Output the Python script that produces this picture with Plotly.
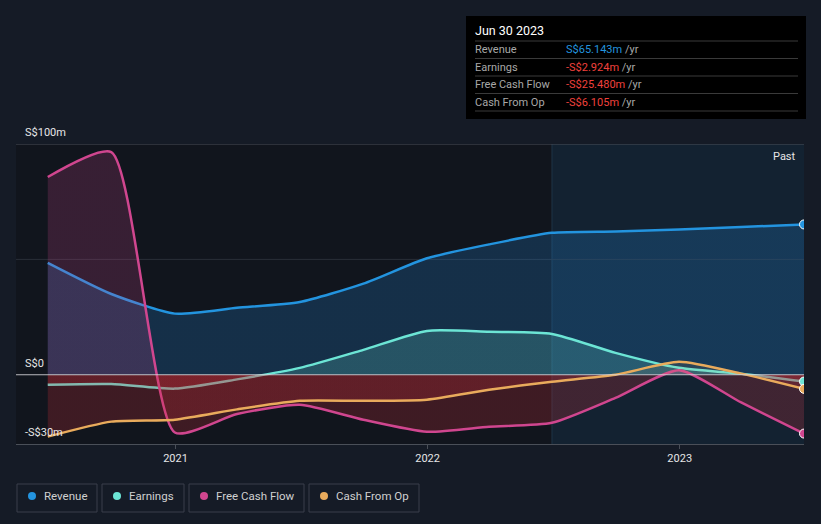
import plotly.graph_objects as go

# ---- data (S$ millions) ----
dates = ["2020-06-30", "2020-09-30", "2020-12-31", "2021-03-31", "2021-06-30",
         "2021-09-30", "2021-12-31", "2022-03-31", "2022-06-30", "2022-09-30",
         "2022-12-31", "2023-03-31", "2023-06-30"]
revenue = [48.5, 35.0, 26.5, 29.0, 31.5, 39.5, 50.5, 56.5, 61.5, 62.1, 63.0, 64.0, 65.143]
earnings = [-4.3, -4.0, -6.0, -2.0, 3.0, 10.8, 19.0, 18.6, 17.7, 9.5, 3.0, 0.4, -2.924]
fcf = [85.7, 96.5, -25.0, -17.0, -13.0, -19.5, -24.7, -22.5, -20.8, -10.0, 2.0, -12.0, -25.480]
cfo = [-26.8, -20.3, -19.5, -15.0, -11.3, -11.3, -10.8, -6.5, -3.0, 0.0, 5.6, 0.5, -6.105]

series_names = ["Revenue", "Earnings", "Free Cash Flow", "Cash From Op"]
series_values = [revenue, earnings, fcf, cfo]
series_colors = ["#2394df", "#6ce5d5", "#d0468f", "#e9ab5c"]
series_fill = ["rgba(35,140,225,0.22)", "rgba(108,229,213,0.20)",
               "rgba(208,70,143,0.20)", "rgba(233,171,92,0.10)"]
neg_fill = "rgba(205,45,55,0.24)"

tooltip_date = "Jun 30 2023"
tooltip_vals = ["S$65.143m", "-S$2.924m", "-S$25.480m", "-S$6.105m"]
tooltip_cols = ["#2394df", "#f0413c", "#f0413c", "#f0413c"]

y_labels = [(100, "S$100m"), (0, "S$0"), (-30, "-S$30m")]
x_ticks = ["2021-01-01", "2022-01-01", "2023-01-01"]
x_ticktext = ["2021", "2022", "2023"]
x_range = ["2020-05-15", "2023-06-30"]
y_range = [-30, 100]
past_start = "2022-06-30"

W, H = 821, 524
L, R, T, B = 16, 804, 144, 444


def px(x):
    return (x - L) / (R - L)


def py(y):
    return (B - y) / (B - T)


fig = go.Figure()

zero_frac = (0 - y_range[0]) / (y_range[1] - y_range[0])
for name, vals, col, fc in zip(series_names, series_values, series_colors, series_fill):
    fig.add_trace(go.Scatter(
        x=dates, y=vals, name=name, mode="lines",
        line=dict(color=col, width=2.5, shape="spline", smoothing=0.6),
        fill="tozeroy",
        fillgradient=dict(type="vertical", start=y_range[0], stop=y_range[1],
                          colorscale=[[0, neg_fill], [zero_frac, neg_fill],
                                      [zero_frac + 0.0001, fc], [1, fc]]),
        hoverinfo="skip", showlegend=False,
    ))

for name, vals, col in zip(series_names, series_values, series_colors):
    fig.add_trace(go.Scatter(
        x=[dates[-1]], y=[vals[-1]], mode="markers",
        marker=dict(color=col, size=9, line=dict(color="#ffffff", width=1)),
        hoverinfo="skip", showlegend=False,
    ))

shapes = []
annotations = []

# past region
shapes.append(dict(type="rect", xref="x", yref="paper", x0=past_start, x1=x_range[1],
                   y0=0, y1=1, fillcolor="rgba(22,50,75,0.45)", line=dict(width=0), layer="below"))
shapes.append(dict(type="line", xref="x", yref="paper", x0=past_start, x1=past_start,
                   y0=0, y1=1, line=dict(color="rgba(40,70,90,0.6)", width=1), layer="below"))
# grid lines
shapes.append(dict(type="line", xref="paper", yref="y", x0=0, x1=1, y0=100, y1=100,
                   line=dict(color="#4a4f58", width=1), layer="below"))
shapes.append(dict(type="line", xref="paper", yref="y", x0=0, x1=1, y0=50, y1=50,
                   line=dict(color="#2a2f38", width=1), layer="below"))
shapes.append(dict(type="line", xref="paper", yref="y", x0=0, x1=1, y0=0, y1=0,
                   line=dict(color="rgba(215,215,220,0.85)", width=1.2), layer="above"))

for v, t in y_labels:
    annotations.append(dict(x=px(23), y=v, xref="paper", yref="y", text=t, showarrow=False,
                            xanchor="left", yanchor="bottom", yshift=3,
                            font=dict(color="#e6e6e6", size=11)))

annotations.append(dict(x=px(798), y=py(156), xref="paper", yref="paper", text="Past",
                        showarrow=False, xanchor="right", yanchor="middle",
                        font=dict(color="#e6e6e6", size=11)))

# tooltip box
shapes.append(dict(type="rect", xref="paper", yref="paper", x0=px(466), x1=px(806),
                   y0=py(119), y1=py(16), fillcolor="#000000", line=dict(width=0)))
for yy in [41, 58.5, 76, 93.5, 111]:
    shapes.append(dict(type="line", xref="paper", yref="paper", x0=px(475), x1=px(798),
                       y0=py(yy), y1=py(yy), line=dict(color="#3a3a3a", width=1)))
annotations.append(dict(x=px(473), y=py(31), xref="paper", yref="paper", text=tooltip_date,
                        showarrow=False, xanchor="left", yanchor="middle",
                        font=dict(color="#ffffff", size=12.5)))
for i, (nm, val, vc) in enumerate(zip(series_names, tooltip_vals, tooltip_cols)):
    yy = 49.5 + i * 17.5
    annotations.append(dict(x=px(473), y=py(yy), xref="paper", yref="paper", text=nm,
                            showarrow=False, xanchor="left", yanchor="middle",
                            font=dict(color="#a8a8a8", size=11)))
    annotations.append(dict(x=px(564), y=py(yy), xref="paper", yref="paper",
                            text=f"<span style='color:{vc}'>{val}</span> /yr",
                            showarrow=False, xanchor="left", yanchor="middle",
                            font=dict(color="#a8a8a8", size=11)))

# custom legend
boxes = [(17, 97), (102, 184), (189, 304), (309, 419)]
for (x0, x1), nm, col in zip(boxes, series_names, series_colors):
    shapes.append(dict(type="rect", xref="paper", yref="paper", x0=px(x0), x1=px(x1),
                       y0=py(512), y1=py(484), line=dict(color="#3a3f4a", width=1),
                       fillcolor="rgba(0,0,0,0)"))
    cx = x0 + 15
    shapes.append(dict(type="circle", xref="paper", yref="paper", x0=px(cx - 4), x1=px(cx + 4),
                       y0=py(500), y1=py(492), fillcolor=col, line=dict(width=0)))
    annotations.append(dict(x=px(cx + 10), y=py(496), xref="paper", yref="paper", text=nm,
                            showarrow=False, xanchor="left", yanchor="middle",
                            font=dict(color="#d0d0d0", size=11.5)))

fig.update_layout(
    width=W, height=H, autosize=False,
    margin=dict(l=L, r=W - R, t=T, b=H - B, pad=0),
    paper_bgcolor="#151b26", plot_bgcolor="#11151d",
    font=dict(family="Roboto, Arial, sans-serif", color="#e6e6e6"),
    shapes=shapes, annotations=annotations, showlegend=False,
    xaxis=dict(range=x_range, type="date", tickvals=x_ticks, ticktext=x_ticktext,
               showgrid=False, zeroline=False, showline=True, linecolor="#4a4f58",
               ticks="outside", ticklen=4, tickcolor="#4a4f58",
               tickfont=dict(color="#e6e6e6", size=11)),
    yaxis=dict(range=y_range, showgrid=False, zeroline=False, showticklabels=False,
               showline=False, ticks=""),
)

fig.write_html("out.html")
